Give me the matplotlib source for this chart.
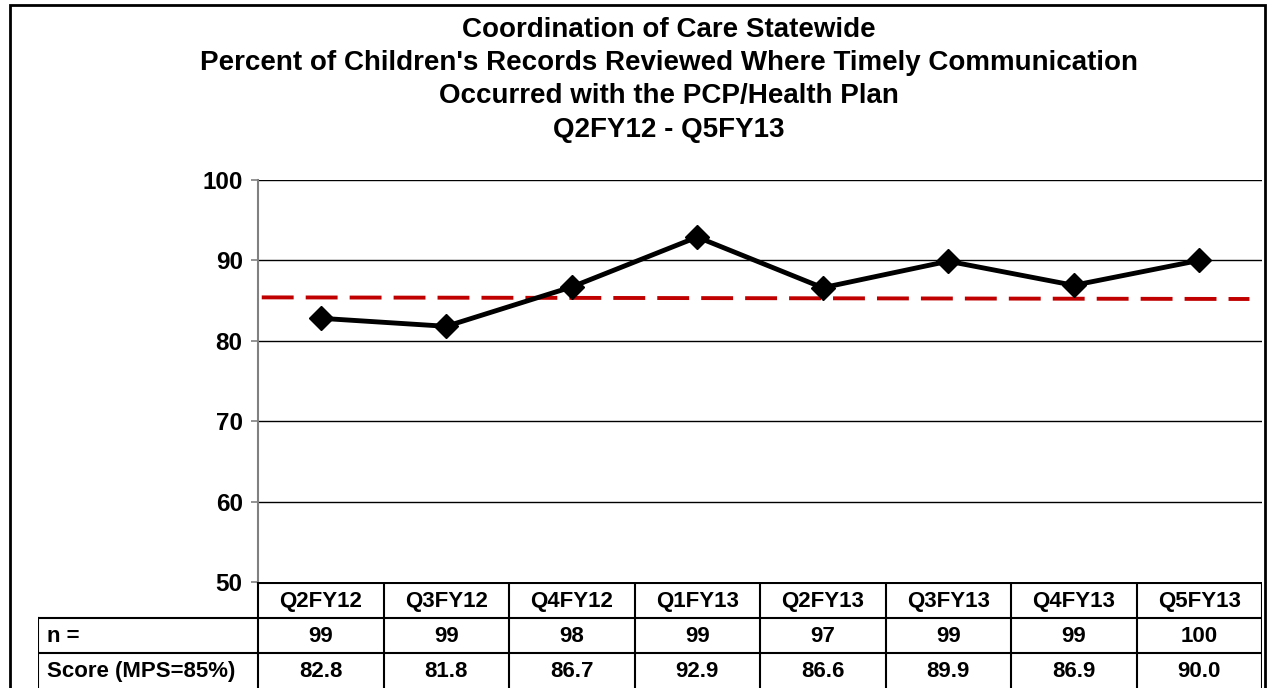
import matplotlib.pyplot as plt
from matplotlib.patches import Rectangle

plt.rcParams['font.family'] = ['Liberation Sans', 'DejaVu Sans']
plt.rcParams['font.weight'] = 'bold'

# data
quarters = ['Q2FY12', 'Q3FY12', 'Q4FY12', 'Q1FY13', 'Q2FY13', 'Q3FY13', 'Q4FY13', 'Q5FY13']
n_values = [99, 99, 98, 99, 97, 99, 99, 100]
scores = [82.8, 81.8, 86.7, 92.9, 86.6, 89.9, 86.9, 90.0]
mps_x = [-0.47, 7.4]
mps_line = [85.4, 85.2]
row_labels = ['n =', 'Score (MPS=85%)']

W, H = 1269, 688
fig = plt.figure(figsize=(W / 100, H / 100), dpi=100)

# outer frame
fig.patches.append(Rectangle((10 / W, -0.01), 1255 / W, (H - 5) / H + 0.01,
                             transform=fig.transFigure, fill=False,
                             edgecolor='black', linewidth=2))

fig.text(669 / W, 1 - 17 / H,
         "Coordination of Care Statewide\n"
         "Percent of Children's Records Reviewed Where Timely Communication\n"
         "Occurred with the PCP/Health Plan\n"
         "Q2FY12 - Q5FY13",
         ha='center', va='top', fontsize=20, fontweight='bold',
         linespacing=1.36)

# main axes
ax = fig.add_axes([258 / W, (H - 582) / H, 1004 / W, 402 / H])
x = list(range(len(quarters)))
ax.set_xlim(-0.5, 7.5)
ax.set_ylim(50, 100)
ax.set_yticks([50, 60, 70, 80, 90, 100])
for v in [60, 70, 80, 90, 100]:
    ax.axhline(v, color='black', linewidth=1, zorder=1)
ax.set_xticks([])
ax.tick_params(axis='y', labelsize=17.5, colors='#808080', length=5, width=1.2,
               labelcolor='black', pad=6)
for lab in ax.get_yticklabels():
    lab.set_fontweight('bold')
for s in ['top', 'right', 'bottom']:
    ax.spines[s].set_visible(False)
ax.spines['left'].set_color('#808080')
ax.spines['left'].set_linewidth(1.5)

ax.plot(mps_x, mps_line, color='#C00000', linewidth=2.8, dashes=(8.2, 3.1), zorder=2)
ax.plot(x, scores, color='black', linewidth=3.5, marker='D', markersize=12, zorder=3)

# data table below axes
tab = fig.add_axes([38 / W, 0, 1224 / W, (H - 582) / H])
label_w = 220 / 125.5
tab.set_xlim(-0.5 - label_w, 7.5)
tab.set_ylim(0, 3.03)
tab.axis('off')
rows = [quarters, n_values, ['%.1f' % s for s in scores]]
ys = [2.5, 1.5, 0.5]
lw = 1.5
for r, (vals, yc) in enumerate(zip(rows, ys)):
    for i, v in enumerate(vals):
        tab.text(i, yc - 0.03, str(v), ha='center', va='center', fontsize=16,
                 fontweight='bold')
for r, lab in enumerate(row_labels):
    tab.text(-0.5 - label_w + 0.07, ys[r + 1] - 0.03, lab, ha='left', va='center',
             fontsize=16, fontweight='bold')
# horizontal lines
tab.plot([-0.5, 7.5], [3.0, 3.0], color='black', linewidth=lw)
tab.plot([-0.5 - label_w, 7.5], [2.0, 2.0], color='black', linewidth=lw)
tab.plot([-0.5 - label_w, 7.5], [1.0, 1.0], color='black', linewidth=lw)
# vertical lines
for i in range(len(quarters) + 1):
    tab.plot([i - 0.5, i - 0.5], [0, 3.0], color='black', linewidth=lw)
tab.plot([-0.5 - label_w, -0.5 - label_w], [0, 2.0], color='black', linewidth=lw)

fig.savefig('out.png', dpi=100)
